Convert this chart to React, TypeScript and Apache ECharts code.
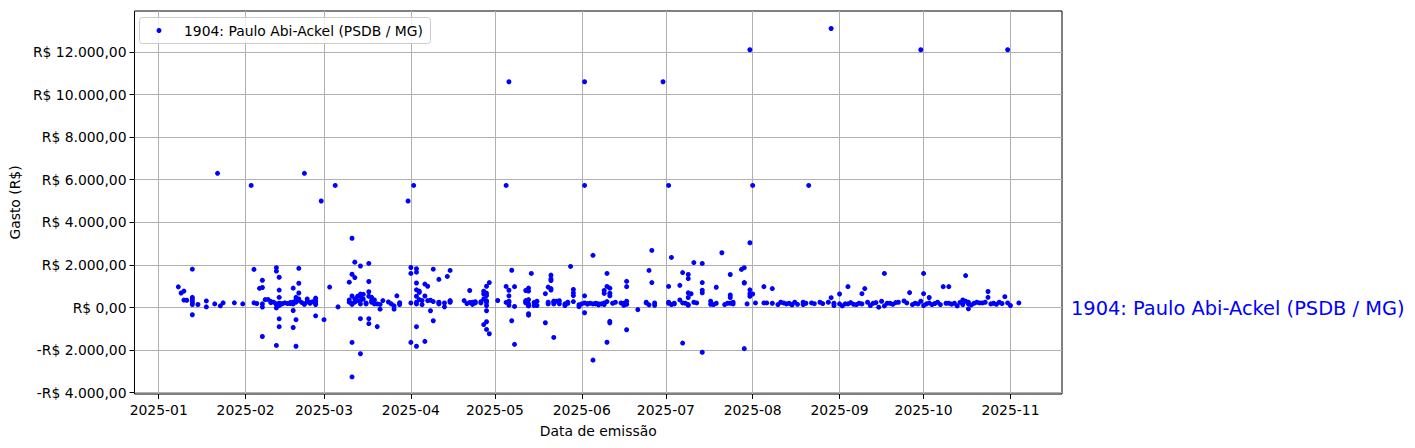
import React, { useEffect, useRef } from 'react';
import * as echarts from 'echarts';

const SERIES_NAME = '1904: Paulo Abi-Ackel (PSDB / MG)';
const X_AXIS_NAME = 'Data de emissão';
const Y_AXIS_NAME = 'Gasto (R$)';

const monthTicks = [
  '2025-01-01', '2025-02-01', '2025-03-01', '2025-04-01', '2025-05-01', '2025-06-01',
  '2025-07-01', '2025-08-01', '2025-09-01', '2025-10-01', '2025-11-01',
];
const valueTicks = [-4000, -2000, 0, 2000, 4000, 6000, 8000, 10000, 12000];

// [data de emissão, gasto em R$]
const gastos: [string, number][] = [
  ['2025-01-08', 970], ['2025-01-09', 680], ['2025-01-10', 770], ['2025-01-10', 350], ['2025-01-11', 340],
  ['2025-01-13', 1800], ['2025-01-13', 480], ['2025-01-13', 400], ['2025-01-13', 300], ['2025-01-13', 230],
  ['2025-01-13', 140], ['2025-01-13', -340], ['2025-01-15', 140], ['2025-01-18', 310], ['2025-01-18', 30],
  ['2025-01-21', 170], ['2025-01-22', 6300], ['2025-01-23', 80], ['2025-01-24', 220], ['2025-01-28', 220],
  ['2025-01-31', 170],
  ['2025-02-03', 5730], ['2025-02-04', 1790], ['2025-02-04', 220], ['2025-02-05', 190], ['2025-02-06', 900],
  ['2025-02-07', 1280], ['2025-02-07', 940], ['2025-02-07', 170], ['2025-02-07', 20], ['2025-02-07', -1360],
  ['2025-02-08', 370], ['2025-02-09', 380], ['2025-02-10', 230], ['2025-02-10', 290], ['2025-02-11', 250],
  ['2025-02-12', 1870], ['2025-02-12', 1710], ['2025-02-12', 170], ['2025-02-12', 140], ['2025-02-12', -20],
  ['2025-02-12', -1780], ['2025-02-13', 1420], ['2025-02-13', 820], ['2025-02-13', 480], ['2025-02-13', 200],
  ['2025-02-13', 180], ['2025-02-13', 90], ['2025-02-13', -530], ['2025-02-13', -900], ['2025-02-14', 180],
  ['2025-02-14', 170], ['2025-02-15', 220], ['2025-02-16', 190], ['2025-02-17', 240], ['2025-02-17', 185],
  ['2025-02-18', 910], ['2025-02-18', 250], ['2025-02-18', 170], ['2025-02-18', -140], ['2025-02-18', -940],
  ['2025-02-19', 480], ['2025-02-19', 370], ['2025-02-19', 270], ['2025-02-19', 250], ['2025-02-19', -570],
  ['2025-02-19', -1820], ['2025-02-20', 1840], ['2025-02-20', 1140], ['2025-02-20', 680], ['2025-02-20', 400],
  ['2025-02-20', 340], ['2025-02-21', 240], ['2025-02-22', 6300], ['2025-02-22', 170], ['2025-02-22', 150],
  ['2025-02-23', 400], ['2025-02-23', 270], ['2025-02-24', 250], ['2025-02-24', 200], ['2025-02-25', 270],
  ['2025-02-26', 440], ['2025-02-26', 320], ['2025-02-26', 220], ['2025-02-26', 140], ['2025-02-26', -390],
  ['2025-02-28', 5000],
  ['2025-03-01', -570], ['2025-03-03', 960], ['2025-03-05', 5730], ['2025-03-06', 30], ['2025-03-10', 1190],
  ['2025-03-10', 355], ['2025-03-10', 250], ['2025-03-11', 3250], ['2025-03-11', 1560], ['2025-03-11', 540],
  ['2025-03-11', 190], ['2025-03-11', 145], ['2025-03-11', -1640], ['2025-03-11', -3260], ['2025-03-12', 2130],
  ['2025-03-12', 1405], ['2025-03-12', 400], ['2025-03-12', 250], ['2025-03-13', 530], ['2025-03-13', 320],
  ['2025-03-14', 1950], ['2025-03-14', 630], ['2025-03-14', 525], ['2025-03-14', 324], ['2025-03-14', 170],
  ['2025-03-14', -525], ['2025-03-14', -2170], ['2025-03-15', 620], ['2025-03-15', 400], ['2025-03-16', 216],
  ['2025-03-16', 170], ['2025-03-17', 2070], ['2025-03-17', 1220], ['2025-03-17', 740], ['2025-03-17', 530],
  ['2025-03-17', -525], ['2025-03-17', -760], ['2025-03-18', 478], ['2025-03-18', 336], ['2025-03-18', 247],
  ['2025-03-19', 355], ['2025-03-19', 170], ['2025-03-20', 170], ['2025-03-20', -896], ['2025-03-21', 144],
  ['2025-03-21', -77], ['2025-03-22', 324], ['2025-03-24', 260], ['2025-03-25', 170], ['2025-03-26', 77],
  ['2025-03-26', -77], ['2025-03-27', 550], ['2025-03-28', 224], ['2025-03-28', 185], ['2025-03-28', 139],
  ['2025-03-31', 5000],
  ['2025-04-01', 1880], ['2025-04-01', 1600], ['2025-04-01', 216], ['2025-04-01', -1637], ['2025-04-02', 5730],
  ['2025-04-03', 1820], ['2025-04-03', 1660], ['2025-04-03', 1150], ['2025-04-03', 830], ['2025-04-03', 530],
  ['2025-04-03', 250], ['2025-04-03', 170], ['2025-04-03', -900], ['2025-04-03', -1820], ['2025-04-04', 770],
  ['2025-04-04', 710], ['2025-04-04', 370], ['2025-04-05', 324], ['2025-04-05', 139], ['2025-04-06', 1100],
  ['2025-04-06', 540], ['2025-04-06', -1590], ['2025-04-07', 1000], ['2025-04-07', 324], ['2025-04-08', 340],
  ['2025-04-08', -150], ['2025-04-09', 1800], ['2025-04-09', 278], ['2025-04-09', -620], ['2025-04-11', 1320],
  ['2025-04-11', 247], ['2025-04-11', 216], ['2025-04-11', 170], ['2025-04-13', 216], ['2025-04-13', 31],
  ['2025-04-14', 1460], ['2025-04-15', 1740], ['2025-04-15', 324], ['2025-04-15', 293], ['2025-04-15', 247],
  ['2025-04-20', 324], ['2025-04-21', 185], ['2025-04-22', 800], ['2025-04-22', 240], ['2025-04-23', 247],
  ['2025-04-23', 144], ['2025-04-24', 272], ['2025-04-24', 216], ['2025-04-26', 272], ['2025-04-26', 216],
  ['2025-04-27', 768], ['2025-04-27', 633], ['2025-04-27', 401], ['2025-04-27', -800], ['2025-04-28', 1000],
  ['2025-04-28', 672], ['2025-04-28', 560], ['2025-04-28', 320], ['2025-04-28', 247], ['2025-04-28', 93],
  ['2025-04-28', -150], ['2025-04-28', -670], ['2025-04-28', -1030], ['2025-04-29', 1170], ['2025-04-29', -1230],
  ['2025-05-02', 330], ['2025-05-05', 5730], ['2025-05-05', 990], ['2025-05-05', 240], ['2025-05-06', 10600],
  ['2025-05-06', 810], ['2025-05-06', 550], ['2025-05-06', 293], ['2025-05-06', 247], ['2025-05-06', 112],
  ['2025-05-07', 1750], ['2025-05-07', -620], ['2025-05-08', 980], ['2025-05-08', 50], ['2025-05-08', -1730],
  ['2025-05-12', 800], ['2025-05-12', 324], ['2025-05-12', 272], ['2025-05-12', 216], ['2025-05-13', 912],
  ['2025-05-13', 772], ['2025-05-13', 370], ['2025-05-13', 170], ['2025-05-13', 93], ['2025-05-13', 77],
  ['2025-05-13', -290], ['2025-05-13', -360], ['2025-05-14', 1600], ['2025-05-15', 240], ['2025-05-15', 96],
  ['2025-05-16', 293], ['2025-05-16', 93], ['2025-05-19', 650], ['2025-05-19', -715], ['2025-05-20', 960],
  ['2025-05-20', 247], ['2025-05-20', 170], ['2025-05-21', 1520], ['2025-05-21', 1340], ['2025-05-21', 1270],
  ['2025-05-21', 890], ['2025-05-21', 818], ['2025-05-22', 300], ['2025-05-22', 247], ['2025-05-22', 170],
  ['2025-05-22', -1405], ['2025-05-23', 293], ['2025-05-24', 320], ['2025-05-24', 176], ['2025-05-26', 170],
  ['2025-05-26', 93], ['2025-05-27', 247], ['2025-05-27', 192], ['2025-05-28', 1930], ['2025-05-29', 850],
  ['2025-05-29', 690], ['2025-05-29', 560], ['2025-05-29', 280], ['2025-05-31', 130], ['2025-05-31', 40],
  ['2025-06-01', 170], ['2025-06-02', 10600], ['2025-06-02', 5730], ['2025-06-02', 550], ['2025-06-02', 216],
  ['2025-06-02', -245], ['2025-06-03', 185], ['2025-06-03', 160], ['2025-06-04', 201], ['2025-06-05', 2450],
  ['2025-06-05', 170], ['2025-06-05', -2470], ['2025-06-06', 201], ['2025-06-06', 170], ['2025-06-07', 170],
  ['2025-06-07', 124], ['2025-06-08', 170], ['2025-06-09', 800], ['2025-06-09', 660], ['2025-06-09', 216],
  ['2025-06-09', 139], ['2025-06-10', 1600], ['2025-06-10', 990], ['2025-06-10', 278], ['2025-06-10', -1630],
  ['2025-06-11', 910], ['2025-06-11', 670], ['2025-06-11', 550], ['2025-06-11', -650], ['2025-06-11', -720],
  ['2025-06-12', 201], ['2025-06-13', 247], ['2025-06-15', 216], ['2025-06-16', 201], ['2025-06-16', 108],
  ['2025-06-17', 1230], ['2025-06-17', 980], ['2025-06-17', 293], ['2025-06-17', 155], ['2025-06-17', -1045],
  ['2025-06-21', -100], ['2025-06-24', 247], ['2025-06-24', 216], ['2025-06-25', 1740], ['2025-06-25', 124],
  ['2025-06-26', 2680], ['2025-06-26', 1170], ['2025-06-27', 216], ['2025-06-27', 108], ['2025-06-30', 10600],
  ['2025-07-02', 5730], ['2025-07-02', 990], ['2025-07-02', 247], ['2025-07-02', 201], ['2025-07-03', 2350],
  ['2025-07-03', 139], ['2025-07-04', 201], ['2025-07-04', 170], ['2025-07-06', 1040], ['2025-07-06', 355],
  ['2025-07-07', 1640], ['2025-07-07', 216], ['2025-07-07', -1670], ['2025-07-08', 201], ['2025-07-09', 1550],
  ['2025-07-09', 1360], ['2025-07-09', 690], ['2025-07-09', 470], ['2025-07-09', 139], ['2025-07-09', 108],
  ['2025-07-10', 645], ['2025-07-11', 2110], ['2025-07-11', 247], ['2025-07-12', 216], ['2025-07-14', 2070],
  ['2025-07-14', 1170], ['2025-07-14', 810], ['2025-07-14', 690], ['2025-07-14', -2100], ['2025-07-17', 293],
  ['2025-07-17', 155], ['2025-07-18', 139], ['2025-07-19', 950], ['2025-07-19', 201], ['2025-07-21', 2570],
  ['2025-07-22', 139], ['2025-07-23', 201], ['2025-07-24', 1550], ['2025-07-24', 590], ['2025-07-24', 470],
  ['2025-07-24', 201], ['2025-07-25', 247], ['2025-07-25', 170], ['2025-07-28', 1790], ['2025-07-29', 1870],
  ['2025-07-29', 1170], ['2025-07-29', 1150], ['2025-07-29', -1930], ['2025-07-30', 170], ['2025-07-31', 12100],
  ['2025-07-31', 3040], ['2025-07-31', 830], ['2025-07-31', 650], ['2025-07-31', 530],
  ['2025-08-01', 5730], ['2025-08-01', 633], ['2025-08-02', 216], ['2025-08-05', 980], ['2025-08-05', 216],
  ['2025-08-06', 216], ['2025-08-08', 890], ['2025-08-08', 201], ['2025-08-10', 139], ['2025-08-11', 247],
  ['2025-08-12', 216], ['2025-08-13', 170], ['2025-08-14', 201], ['2025-08-15', 139], ['2025-08-15', 124],
  ['2025-08-16', 250], ['2025-08-17', 150], ['2025-08-19', 247], ['2025-08-19', 139], ['2025-08-20', 201],
  ['2025-08-21', 5730], ['2025-08-22', 216], ['2025-08-23', 180], ['2025-08-25', 247], ['2025-08-26', 185],
  ['2025-08-28', 247], ['2025-08-29', 13100], ['2025-08-29', 463], ['2025-08-30', 201], ['2025-08-30', 93],
  ['2025-09-01', 633], ['2025-09-01', 170], ['2025-09-02', 77], ['2025-09-03', 170], ['2025-09-04', 980],
  ['2025-09-04', 170], ['2025-09-05', 230], ['2025-09-06', 150], ['2025-09-07', 139], ['2025-09-08', 201],
  ['2025-09-09', 650], ['2025-09-09', 170], ['2025-09-10', 890], ['2025-09-11', 247], ['2025-09-12', 93],
  ['2025-09-13', 201], ['2025-09-14', 230], ['2025-09-15', 15], ['2025-09-16', 293], ['2025-09-17', 1600],
  ['2025-09-17', 77], ['2025-09-18', 201], ['2025-09-19', 201], ['2025-09-20', 150], ['2025-09-21', 230],
  ['2025-09-22', 247], ['2025-09-24', 309], ['2025-09-25', 216], ['2025-09-26', 700], ['2025-09-27', 139],
  ['2025-09-28', 201], ['2025-09-29', 170], ['2025-09-30', 12100], ['2025-09-30', 293],
  ['2025-10-01', 1600], ['2025-10-01', 650], ['2025-10-01', 93], ['2025-10-02', 170], ['2025-10-03', 470],
  ['2025-10-03', 216], ['2025-10-04', 139], ['2025-10-05', 190], ['2025-10-06', 247], ['2025-10-07', 139],
  ['2025-10-08', 980], ['2025-10-09', 201], ['2025-10-10', 980], ['2025-10-10', 201], ['2025-10-11', 160],
  ['2025-10-12', 201], ['2025-10-13', 77], ['2025-10-14', 240], ['2025-10-15', 355], ['2025-10-15', 139],
  ['2025-10-16', 1500], ['2025-10-16', 293], ['2025-10-17', 247], ['2025-10-17', 170], ['2025-10-17', -62],
  ['2025-10-18', 120], ['2025-10-19', 200], ['2025-10-20', 247], ['2025-10-21', 216], ['2025-10-22', 216],
  ['2025-10-23', 247], ['2025-10-24', 750], ['2025-10-24', 480], ['2025-10-25', 170], ['2025-10-26', 200],
  ['2025-10-27', 150], ['2025-10-28', 247], ['2025-10-29', 190], ['2025-10-30', 510], ['2025-10-31', 12100],
  ['2025-10-31', 216], ['2025-11-01', 93], ['2025-11-04', 216],
];

const FONT = 'DejaVu Sans';
const DAY = 86400000;
const toTs = (s: string) => Date.parse(s + 'T00:00:00Z');
const X_MIN = toTs('2025-01-01') - 8.64 * DAY;
const X_MAX = toTs('2025-01-01') + 322.4 * DAY;
const Y_MIN = -4060;
const Y_MAX = 13920;

const brl = (v: number) => {
  const [i, d] = Math.abs(v).toFixed(2).split('.');
  const int = i.replace(/\B(?=(\d{3})+(?!\d))/g, '.');
  return (v < 0 ? '-' : '') + 'R$ ' + int + ',' + d;
};
const ym = (v: number) => {
  const dt = new Date(v);
  return dt.getUTCFullYear() + '-' + String(dt.getUTCMonth() + 1).padStart(2, '0');
};

export default function App() {
  const ref = useRef<HTMLDivElement>(null);
  useEffect(() => {
    if (!ref.current) return;
    const chart = echarts.init(ref.current, undefined, { renderer: 'svg' });
    const monthTs = monthTicks.map(toTs);
    chart.setOption({
      animation: false,
      textStyle: { fontFamily: FONT },
      grid: {
        left: 131, right: 353, top: 11, bottom: 54, show: true,
        borderColor: '#000', borderWidth: 1, backgroundColor: 'transparent',
      },
      xAxis: {
        type: 'value', min: X_MIN, max: X_MAX,
        name: X_AXIS_NAME, nameLocation: 'middle', nameGap: 30,
        nameTextStyle: { fontSize: 13.9, color: '#000', fontFamily: FONT },
        axisLine: { show: false, onZero: false },
        axisTick: { show: true, customValues: monthTs, length: 5, lineStyle: { color: '#000', width: 1 } },
        axisLabel: { customValues: monthTs, formatter: (v: number) => ym(v), fontSize: 13.9, color: '#000', fontFamily: FONT, margin: 9 },
        splitLine: { show: true, lineStyle: { color: '#b0b0b0', width: 1 } },
      },
      yAxis: {
        type: 'value', min: Y_MIN, max: Y_MAX,
        name: Y_AXIS_NAME, nameLocation: 'middle', nameGap: 108, nameRotate: 90,
        nameTextStyle: { fontSize: 13.9, color: '#000', fontFamily: FONT },
        axisLine: { show: false, onZero: false },
        axisTick: { show: true, customValues: valueTicks, length: 5, lineStyle: { color: '#000', width: 1 } },
        axisLabel: { customValues: valueTicks, formatter: (v: number) => brl(v), fontSize: 13.9, color: '#000', fontFamily: FONT, margin: 8 },
        splitLine: { show: true, lineStyle: { color: '#b0b0b0', width: 1 } },
      },
      series: [
        {
          type: 'scatter', name: SERIES_NAME,
          data: gastos.map(([d, v]) => [toTs(d), v]),
          symbol: 'circle', symbolSize: 5,
          itemStyle: { color: '#0000ff', opacity: 1 },
        },
      ],
      graphic: [
        {
          type: 'rect', z: 100,
          shape: { x: 139.5, y: 17.5, width: 291, height: 26, r: 3 },
          style: { fill: 'rgba(255,255,255,0.8)', stroke: '#cccccc', lineWidth: 1 },
        },
        {
          type: 'circle', z: 101,
          shape: { cx: 159, cy: 30.5, r: 2.5 },
          style: { fill: '#0000ff' },
        },
        {
          type: 'text', z: 101, x: 184, y: 30.5,
          style: { text: SERIES_NAME, fill: '#000', fontSize: 13.9, fontFamily: FONT, verticalAlign: 'middle', align: 'left' },
        },
        {
          type: 'text', z: 101, x: 1071, y: 308,
          style: { text: SERIES_NAME, fill: '#0000ff', fontSize: 19.4, fontFamily: FONT, verticalAlign: 'middle', align: 'left' },
        },
      ],
    });
    return () => chart.dispose();
  }, []);
  return <div ref={ref} style={{ position: 'absolute', left: 0, top: 0, width: 1415, height: 448 }} />;
}
